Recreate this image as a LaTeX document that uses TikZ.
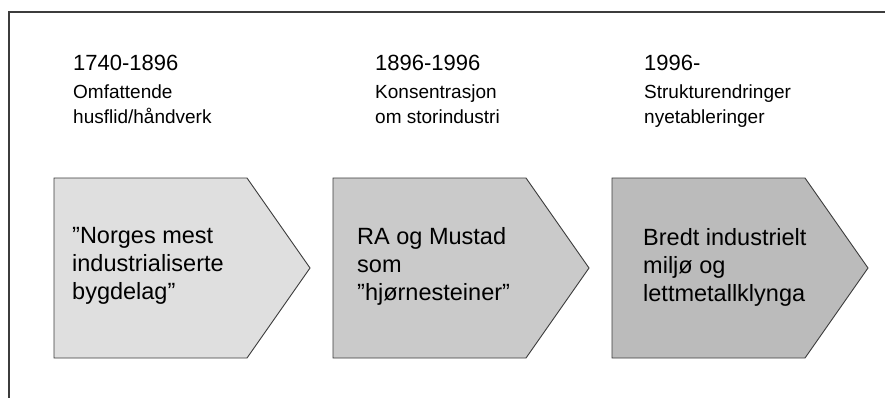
\documentclass[tikz,border=0pt]{standalone}
\usepackage{fontspec}
\setmainfont{Liberation Sans}
\usetikzlibrary{positioning}

\definecolor{boxA}{HTML}{DFDFDF}
\definecolor{boxB}{HTML}{CACACA}
\definecolor{boxC}{HTML}{BBBBBB}
\definecolor{edge}{HTML}{3C3C3C}

\begin{document}
\begin{tikzpicture}[
            x = 1pt, y = -1pt, % measured in pixels, y down
            arrowbox/.style = {draw = edge, line width = 0.9pt, line join = miter},
            period/.style = {anchor = north west, inner sep = 0pt,
                font = \fontsize{22}{26}\selectfont},
            phase/.style = {anchor = north west, inner sep = 0pt, align = left,
                font = \fontsize{19}{24.5}\selectfont},
            boxtext/.style = {anchor = north west, inner sep = 0pt, align = left,
                font = \fontsize{23.5}{28}\selectfont}
        ]

        \useasboundingbox (0,0) rectangle (885,398);

        % frame (open at bottom and right)
        \draw[edge, line width = 1.4pt] (885,12) -- (9,12) -- (9,398);

        % the three arrow boxes
        \foreach \x/\shade in {54/boxA, 333/boxB, 612/boxC}
            \draw[arrowbox, fill = \shade] (\x,178) -- ++(193,0) -- ++(63,90)
                -- ++(-63,90) -- ++(-193,0) -- cycle;

        % periods
        \node[period] (y1) at (73,55) {1740-1896};
        \node[period] (y2) at (375,55) {1896-1996};
        \node[period] (y3) at (644,55) {1996-};

        \node[phase] (p1) [below = 14pt of y1.south west, anchor = north west] {Omfattende\\husflid/håndverk};
        \node[phase] (p2) [below = 14pt of y2.south west, anchor = north west] {Konsentrasjon\\om storindustri};
        \node[phase] (p3) [below = 14pt of y3.south west, anchor = north west] {Strukturendringer\\nyetableringer};

        % box texts
        \node[boxtext] (t1) at (72,227) {”Norges mest\\industrialiserte\\bygdelag”};
        \node[boxtext] (t2) at (357,227) {RA og Mustad\\som\\”hjørnesteiner”};
        \node[boxtext] (t3) at (643,228) {Bredt industrielt\\miljø og\\lettmetallklynga};

  \end{tikzpicture}
\end{document}
